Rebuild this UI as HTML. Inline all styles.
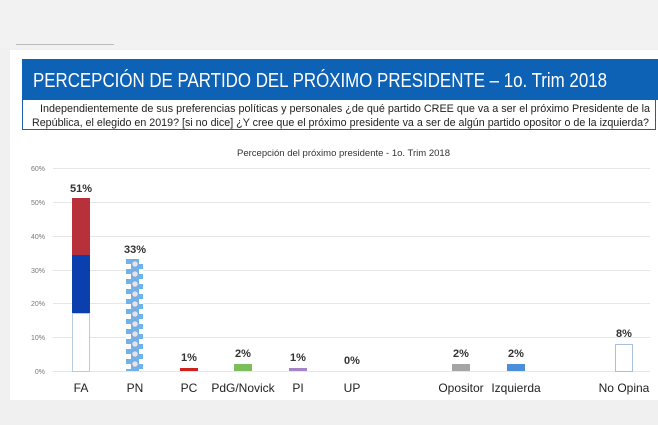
<!DOCTYPE html>
<html><head><meta charset="utf-8"><style>
body{margin:0;width:658px;height:425px;background:#f0f0f0;position:relative;overflow:hidden;font-family:"Liberation Sans",sans-serif}
.a{position:absolute}
</style></head><body>
<div class="a" style="left:0;top:0;width:658px;height:48px;background:#f2f2f2"></div>
<div class="a" style="left:16px;top:44px;width:98px;height:1px;background:#bbb"></div>
<div class="a" style="left:10px;top:50px;width:648px;height:350px;background:#fff"></div>
<div class="a" style="left:22px;top:59px;width:636px;height:41px;background:#0d62b6"></div>
<div class="a" style="left:22px;top:100px;width:634px;height:30px;border:1px solid #1d5fae;border-top:none;box-sizing:border-box"></div>
<svg class="a" style="left:0;top:0" width="658" height="425" font-family="Liberation Sans">
<text x="33" y="87" font-size="20" fill="#fff" textLength="574" lengthAdjust="spacingAndGlyphs">PERCEPCIÓN DE PARTIDO DEL PRÓXIMO PRESIDENTE  – 1o. Trim 2018</text>
<text x="40" y="112" font-size="11" fill="#222" textLength="610" lengthAdjust="spacingAndGlyphs">Independientemente de sus preferencias políticas y personales ¿de qué partido CREE que va a ser el próximo Presidente de la</text>
<text x="32" y="126" font-size="11" fill="#222" textLength="617" lengthAdjust="spacingAndGlyphs">República, el elegido en 2019? [si no dice] ¿Y cree que el próximo presidente va a ser de algún partido opositor o de la izquierda?</text>
<text x="237" y="156" font-size="9" fill="#333" textLength="213" lengthAdjust="spacingAndGlyphs">Percepción del próximo presidente - 1o. Trim 2018</text>
<g stroke="#e6e6e6" stroke-width="1">
<line x1="53" x2="650" y1="168.5" y2="168.5"/><line x1="53" x2="650" y1="202.5" y2="202.5"/><line x1="53" x2="650" y1="236.5" y2="236.5"/><line x1="53" x2="650" y1="270.5" y2="270.5"/><line x1="53" x2="650" y1="303.5" y2="303.5"/><line x1="53" x2="650" y1="337.5" y2="337.5"/><line x1="53" x2="650" y1="371.5" y2="371.5"/>
</g>
<g font-size="7" fill="#777" text-anchor="end">
<text x="45" y="171">60%</text><text x="45" y="205">50%</text><text x="45" y="239">40%</text><text x="45" y="273">30%</text><text x="45" y="306">20%</text><text x="45" y="340">10%</text><text x="45" y="374">0%</text>
</g>
<rect x="72.5" y="313.5" width="17" height="58" fill="#fff" stroke="#b8cce4"/>
<rect x="72" y="255" width="18" height="58" fill="#0b3fae"/>
<rect x="72" y="198" width="18" height="57" fill="#b8313a"/>
<defs><pattern id="p" x="126" y="259" width="18" height="10" patternUnits="userSpaceOnUse"><rect width="18" height="10" fill="#6fb3ec"/><rect x="0" y="5" width="5" height="5" fill="#fff"/><rect x="13" y="0" width="5" height="5" fill="#fff"/><circle cx="9" cy="5" r="3.2" fill="#dfe4f1" stroke="#8a9bc4" stroke-width="0.8"/></pattern></defs>
<rect x="126" y="259" width="17" height="112" fill="url(#p)"/>
<rect x="180" y="368" width="18" height="3" fill="#d0201c"/>
<rect x="234" y="364" width="18" height="7" fill="#7cbd5c"/>
<rect x="289" y="368" width="18" height="3" fill="#a486c8"/>
<rect x="452" y="364" width="18" height="7" fill="#a5a5a5"/>
<rect x="507" y="364" width="18" height="7" fill="#4a90d9"/>
<rect x="615.5" y="344.5" width="17" height="27" fill="#fff" stroke="#a8c0e0"/>
<g font-size="11" fill="#333" text-anchor="middle" font-weight="bold">
<text x="81" y="192">51%</text><text x="135" y="253">33%</text><text x="189" y="361">1%</text><text x="243" y="357">2%</text><text x="298" y="361">1%</text><text x="352" y="364">0%</text><text x="461" y="357">2%</text><text x="516" y="357">2%</text><text x="624" y="337">8%</text>
</g>
<g font-size="12" fill="#222" text-anchor="middle">
<text x="81" y="392">FA</text><text x="135" y="392">PN</text><text x="189" y="392">PC</text><text x="243" y="392">PdG/Novick</text><text x="298" y="392">PI</text><text x="352" y="392">UP</text><text x="461" y="392">Opositor</text><text x="516" y="392">Izquierda</text><text x="624" y="392">No Opina</text>
</g>
</svg>
</body></html>
